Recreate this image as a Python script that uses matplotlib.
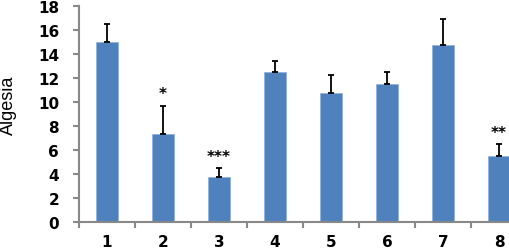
import numpy as np
import matplotlib.pyplot as plt

groups = ["1", "2", "3", "4", "5", "6", "7", "8"]
means = [15.0, 7.3, 3.7, 12.5, 10.7, 11.45, 14.7, 5.5]
errors = [1.5, 2.37, 0.77, 0.9, 1.5, 1.03, 2.2, 0.95]
marks = ["", "*", "***", "", "", "", "", "**"]

plt.rcParams["font.family"] = ["DejaVu Sans"]

W, H = 510, 251
fig = plt.figure(figsize=(W / 100, H / 100), dpi=100)
# axes runs past the right edge, the original picture is cropped there
ax = fig.add_axes([79 / W, 28.3 / H, 448 / W, 216 / H])

x = np.arange(len(groups))
ax.bar(x, means, width=0.4, color="#4F81BD", edgecolor="#8DB3E2", linewidth=0.6, zorder=2)
ax.errorbar(x, means, yerr=[np.zeros(len(means)), errors], fmt="none",
            ecolor="black", elinewidth=1.3, capsize=2.2, capthick=1.3, zorder=3)

for i, m in enumerate(marks):
    if m:
        ax.annotate(m, (x[i], means[i] + errors[i]), xytext=(0, 3),
                    textcoords="offset points", ha="center", va="bottom",
                    fontsize=11, fontweight="bold")

ax.set_xlim(-0.5, len(groups) - 0.5)
ax.set_ylim(0, 18)
ax.set_yticks(range(0, 19, 2))
ax.set_xticks(np.arange(-0.5, len(groups), 1.0))
ax.set_xticklabels([])
ax.set_xticks(x, minor=True)
ax.set_xticklabels(groups, minor=True)
ax.tick_params(axis="x", which="minor", length=0, pad=9)
ax.tick_params(axis="x", which="major", length=4, width=1.5, color="#888888")
ax.tick_params(axis="y", length=4.3, width=1.5, color="#888888", pad=10)

for lab in ax.get_xticklabels(minor=True) + ax.get_yticklabels():
    lab.set_fontweight("bold")
    lab.set_fontsize(11)

for s in ["top", "right"]:
    ax.spines[s].set_visible(False)
for s in ["left", "bottom"]:
    ax.spines[s].set_color("#888888")
    ax.spines[s].set_linewidth(1.5)

fig.text(8 / W, 1 - 105 / H, "Algesia", rotation=90, ha="center", va="center",
         fontsize=13, family=["Liberation Sans", "DejaVu Sans"])

fig.savefig("out.png", dpi=100)
